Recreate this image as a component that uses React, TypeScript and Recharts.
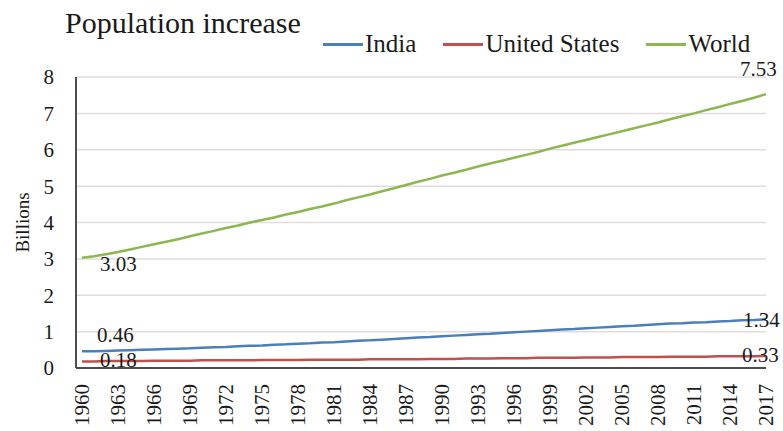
import { LineChart, Line, XAxis, YAxis, CartesianGrid } from "recharts";

const years = [
  "1960", "1961", "1962", "1963", "1964", "1965", "1966", "1967", "1968", "1969",
  "1970", "1971", "1972", "1973", "1974", "1975", "1976", "1977", "1978", "1979",
  "1980", "1981", "1982", "1983", "1984", "1985", "1986", "1987", "1988", "1989",
  "1990", "1991", "1992", "1993", "1994", "1995", "1996", "1997", "1998", "1999",
  "2000", "2001", "2002", "2003", "2004", "2005", "2006", "2007", "2008", "2009",
  "2010", "2011", "2012", "2013", "2014", "2015", "2016", "2017",
];

const india = [
  0.46, 0.46, 0.47, 0.48, 0.49, 0.5, 0.51, 0.52, 0.53, 0.54,
  0.56, 0.57, 0.58, 0.6, 0.61, 0.62, 0.64, 0.65, 0.67, 0.68,
  0.7, 0.71, 0.73, 0.75, 0.76, 0.78, 0.8, 0.82, 0.84, 0.85,
  0.87, 0.89, 0.91, 0.93, 0.94, 0.96, 0.98, 1.0, 1.02, 1.04,
  1.06, 1.07, 1.09, 1.11, 1.13, 1.15, 1.16, 1.18, 1.2, 1.22,
  1.23, 1.25, 1.26, 1.28, 1.29, 1.31, 1.32, 1.34,
];

const unitedStates = [
  0.18, 0.18, 0.19, 0.19, 0.19, 0.19, 0.2, 0.2, 0.2, 0.2,
  0.21, 0.21, 0.21, 0.21, 0.21, 0.22, 0.22, 0.22, 0.22, 0.23,
  0.23, 0.23, 0.23, 0.23, 0.24, 0.24, 0.24, 0.24, 0.24, 0.25,
  0.25, 0.25, 0.26, 0.26, 0.26, 0.27, 0.27, 0.27, 0.28, 0.28,
  0.28, 0.28, 0.29, 0.29, 0.29, 0.3, 0.3, 0.3, 0.3, 0.31,
  0.31, 0.31, 0.31, 0.32, 0.32, 0.32, 0.32, 0.33,
];

const world = [
  3.03, 3.07, 3.13, 3.19, 3.26, 3.33, 3.4, 3.47, 3.54, 3.62,
  3.7, 3.77, 3.85, 3.92, 4.0, 4.07, 4.14, 4.22, 4.29, 4.37,
  4.44, 4.52, 4.61, 4.69, 4.77, 4.86, 4.94, 5.03, 5.12, 5.2,
  5.29, 5.37, 5.45, 5.54, 5.62, 5.7, 5.78, 5.86, 5.94, 6.03,
  6.11, 6.19, 6.27, 6.35, 6.43, 6.51, 6.59, 6.67, 6.75, 6.84,
  6.92, 7.0, 7.09, 7.17, 7.26, 7.34, 7.43, 7.53,
];

const yTicks = [0, 1, 2, 3, 4, 5, 6, 7, 8];

const data = years.map((year, i) => ({
  year,
  India: india[i],
  "United States": unitedStates[i],
  World: world[i],
}));

const FONT = "'Times New Roman', 'Liberation Serif', 'DejaVu Serif', serif";
const TEXT = "#1a1a1a";

const series = [
  { key: "India", color: "#4a7ebf", first: [15, -9], last: [-23, 8] },
  { key: "United States", color: "#c0504d", first: [18, 6], last: [-24, 6] },
  { key: "World", color: "#8cb650", first: [18, 13], last: [-26, -18] },
];

// only the first and last points carry a value label
const endLabel = (first: number[], last: number[]) => (props: any) => {
  const { x, y, index, value } = props;
  if (index !== 0 && index !== years.length - 1) return null;
  const off = index === 0 ? first : last;
  return (
    <text key={index} x={x + off[0]} y={y + off[1]} fontSize={21} fontFamily={FONT} fill={TEXT}>
      {Number(value).toFixed(2)}
    </text>
  );
};

const XTick = (props: any) => {
  const { x, y, payload } = props;
  return (
    <text
      x={x + 7}
      y={y + 8}
      transform={`rotate(-90 ${x + 7} ${y + 8})`}
      textAnchor="end"
      fontSize={21}
      fontFamily={FONT}
      fill={TEXT}
    >
      {payload.value}
    </text>
  );
};

const LegendBox = () => (
  <div style={{ display: "flex", fontFamily: FONT, fontSize: 25, color: TEXT }}>
    {series.map((s) => (
      <div key={s.key} style={{ display: "flex", alignItems: "center", marginRight: 27 }}>
        <span style={{ display: "inline-block", width: 40, height: 3, background: s.color, marginRight: 2 }} />
        <span>{s.key}</span>
      </div>
    ))}
  </div>
);

export default function App() {
  return (
    <div style={{ position: "absolute", left: 0, top: 0, width: 783, height: 431, background: "#fff", overflow: "hidden" }}>
      <div style={{ position: "absolute", left: 65, top: 6, fontFamily: FONT, fontSize: 30, color: TEXT, zIndex: 2 }}>
        Population increase
      </div>
      <div style={{ position: "absolute", left: 323, top: 30, zIndex: 2 }}>
        <LegendBox />
      </div>
      <LineChart width={783} height={431} data={data} margin={{ top: 77, right: 17, bottom: 8, left: 40 }}>
        <CartesianGrid vertical={false} stroke="#e3dcdc" strokeWidth={1.5} />
        <XAxis
          dataKey="year"
          interval={2}
          height={55}
          padding={{ left: 6, right: 0 }}
          tickLine={false}
          axisLine={{ stroke: "#4d4d4d", strokeWidth: 2 }}
          tick={<XTick />}
        />
        <YAxis
          domain={[0, 8]}
          ticks={yTicks}
          width={36}
          tickLine={false}
          tickSize={0}
          tickMargin={22}
          axisLine={{ stroke: "#4d4d4d", strokeWidth: 2 }}
          tick={{ fontSize: 21, fontFamily: FONT, fill: TEXT }}
          label={{
            value: "Billions",
            angle: -90,
            position: "insideLeft",
            offset: -18,
            style: { fontSize: 19, fontFamily: FONT, fill: TEXT, textAnchor: "middle" },
          }}
        />
        {series.map((s) => (
          <Line
            key={s.key}
            type="linear"
            dataKey={s.key}
            stroke={s.color}
            strokeWidth={2.5}
            dot={false}
            isAnimationActive={false}
            label={endLabel(s.first, s.last)}
          />
        ))}
      </LineChart>
    </div>
  );
}
